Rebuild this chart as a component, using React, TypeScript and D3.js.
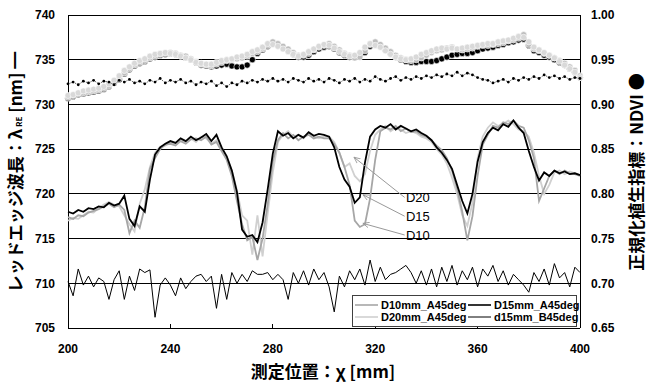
import React from 'react';
import * as d3 from 'd3';

// sample positions along the scan, mm (2 mm step)
const positions = d3.range(200, 401, 2);

// red edge wavelength λRE [nm]
const reD15 = [
  718.0, 717.8, 718.2, 718.0, 718.4, 718.3, 718.6, 718.5, 719.0, 718.7, 718.9,
  719.8, 717.2, 716.4, 718.6, 718.0, 721.6, 724.4, 725.2, 725.6, 725.9,
  725.7, 726.2, 725.9, 726.4, 726.0, 726.3, 726.7, 725.9, 726.6, 725.2,
  724.2, 722.6, 720.2, 716.0, 715.2, 715.4, 714.6, 716.8, 720.5, 724.5,
  727.0, 726.5, 726.8, 726.2, 726.6, 726.3, 726.9, 726.5, 726.7, 726.6,
  726.4, 725.2, 723.0, 721.6, 720.8, 719.0, 719.6, 723.5, 726.4, 727.2,
  727.6, 727.4, 727.8, 727.2, 727.6, 727.3, 727.0, 727.2, 726.8, 726.5,
  726.0, 725.2, 724.6, 723.8, 722.8, 721.0, 719.2, 717.8, 720.0, 723.6,
  725.8, 726.8, 727.4, 727.1, 727.8, 727.5, 728.2, 727.4, 726.8, 724.8,
  723.0, 721.5, 722.4, 722.0, 722.6, 722.3, 722.5, 722.2, 722.3, 722.1,
];
const reD10 = [
  717.4, 717.2, 717.6, 717.5, 717.9, 718.1, 718.3, 718.6, 718.9, 718.5, 718.8,
  718.2, 715.6, 717.0, 716.2, 718.5, 722.8, 724.0, 725.0, 725.5, 725.6,
  725.4, 725.9, 725.6, 726.1, 726.2, 726.0, 726.4, 725.5, 725.8, 724.8,
  723.8, 722.0, 719.2, 716.6, 714.8, 715.2, 712.6, 715.0, 718.8, 723.6,
  726.0, 726.8, 726.2, 726.6, 726.0, 726.4, 726.6, 726.2, 726.4, 726.2,
  726.2, 725.6, 724.6, 723.0, 721.0, 717.0, 716.3, 716.6, 719.5, 723.8,
  727.0, 727.4, 727.2, 727.6, 727.0, 727.3, 726.9, 727.0, 726.6, 726.4,
  726.0, 725.4, 724.9, 724.0, 722.6, 720.6, 718.0, 714.8, 717.5, 722.0,
  725.5, 726.6, 727.6, 727.4, 728.0, 727.8, 728.2, 727.6, 727.4, 726.0,
  724.0, 719.2, 720.6, 722.0, 722.6, 722.2, 722.6, 722.3, 722.2, 722.0,
];
const reD20 = [
  717.0, 717.3, 717.2, 717.6, 718.0, 717.9, 718.4, 718.8, 719.1, 718.8, 718.6,
  717.6, 716.6, 715.8, 718.9, 720.5, 723.0, 724.6, 725.3, 725.4, 725.8,
  725.5, 726.0, 725.8, 726.2, 725.8, 726.4, 726.2, 725.6, 726.0, 725.2,
  724.2, 722.6, 720.4, 717.6, 717.0, 713.2, 717.6, 713.0, 717.8, 722.4,
  725.8, 726.6, 727.0, 726.4, 726.6, 726.2, 726.8, 726.4, 726.2, 726.4,
  726.4, 725.8, 724.6, 723.0, 723.4, 722.0, 721.4, 722.2, 724.8, 726.6,
  727.2, 727.6, 727.0, 727.4, 727.2, 726.8, 727.0, 726.8, 726.4, 726.2,
  725.8, 725.0, 724.4, 723.4, 721.8, 720.0, 717.6, 716.4, 719.0, 724.0,
  726.4, 727.4, 728.0, 727.6, 727.8, 728.2, 727.8, 727.2, 727.0, 726.4,
  724.6, 722.0, 720.0, 721.0, 722.4, 722.6, 722.2, 722.5, 722.3, 722.1,
];
const reD15B = [
  710.2, 708.6, 711.6, 709.8, 710.8, 709.6, 710.6, 710.2, 708.2, 710.4, 711.4,
  708.2, 710.8, 709.2, 711.6, 711.2, 711.5, 706.2, 709.8, 710.6, 709.8,
  708.6, 710.6, 709.4, 710.2, 710.8, 711.0, 710.2, 710.8, 707.2, 711.0,
  708.2, 711.2, 710.0, 711.0, 710.2, 711.4, 711.0, 711.0, 711.2, 710.4,
  711.0, 710.4, 708.2, 711.2, 710.0, 711.4, 709.8, 711.6, 710.4, 711.2,
  709.6, 706.8, 710.8, 709.6, 711.4, 710.4, 711.6, 709.8, 712.6, 710.2,
  711.8, 710.4, 711.0, 711.2, 711.6, 712.0, 711.2, 710.0, 711.4, 709.8,
  711.6, 709.6, 711.8, 710.2, 712.0, 709.8, 711.4, 710.4, 711.8, 709.6,
  711.6, 710.8, 712.0, 710.2, 711.4, 709.8, 711.0, 710.4, 709.8, 709.0,
  711.2, 710.2, 711.6, 709.8, 712.2, 710.6, 711.2, 709.6, 711.8, 711.2,
];

// NDVI
const ndviD10 = [
  0.908, 0.910, 0.912, 0.913, 0.914, 0.915, 0.916, 0.918, 0.921, 0.925, 0.929,
  0.935, 0.940, 0.944, 0.947, 0.949, 0.952, 0.954, 0.956, 0.957, 0.958,
  0.957, 0.955, 0.954, 0.951, 0.948, 0.945, 0.944, 0.943, 0.945, 0.947,
  0.949, 0.950, 0.951, 0.952, 0.954, 0.957, 0.959, 0.962, 0.966, 0.970,
  0.968, 0.965, 0.962, 0.958, 0.955, 0.955, 0.957, 0.961, 0.964, 0.966,
  0.968, 0.965, 0.961, 0.957, 0.955, 0.952, 0.953, 0.960, 0.967, 0.970,
  0.967, 0.963, 0.959, 0.955, 0.952, 0.950, 0.949, 0.950, 0.952, 0.955,
  0.958, 0.960, 0.961, 0.963, 0.964, 0.962, 0.961, 0.962, 0.963, 0.965,
  0.966, 0.966, 0.967, 0.968, 0.969, 0.971, 0.972, 0.974, 0.978, 0.967,
  0.962, 0.960, 0.957, 0.955, 0.952, 0.949, 0.946, 0.942, 0.938, 0.932,
];
const ndviD20 = [
  0.910, 0.911, 0.913, 0.915, 0.916, 0.917, 0.918, 0.920, 0.923, 0.927, 0.932,
  0.938, 0.942, 0.946, 0.949, 0.951, 0.954, 0.956, 0.957, 0.958, 0.957,
  0.956, 0.954, 0.952, 0.950, 0.947, 0.946, 0.945, 0.945, 0.947, 0.949,
  0.950, 0.951, 0.953, 0.954, 0.956, 0.959, 0.961, 0.964, 0.968, 0.967,
  0.965, 0.962, 0.959, 0.956, 0.954, 0.956, 0.959, 0.962, 0.965, 0.967,
  0.966, 0.963, 0.959, 0.956, 0.954, 0.955, 0.958, 0.964, 0.968, 0.966,
  0.964, 0.960, 0.956, 0.953, 0.951, 0.950, 0.951, 0.953, 0.956, 0.958,
  0.960, 0.962, 0.963, 0.962, 0.963, 0.962, 0.963, 0.964, 0.965, 0.966,
  0.967, 0.968, 0.968, 0.970, 0.971, 0.972, 0.974, 0.976, 0.975, 0.970,
  0.964, 0.961, 0.958, 0.955, 0.952, 0.948, 0.944, 0.940, 0.936, 0.930,
];
const ndviD15 = [
  0.907, 0.909, 0.911, 0.912, 0.913, 0.914, 0.915, 0.917, 0.920, 0.924, 0.928,
  0.934, 0.939, 0.943, 0.946, 0.948, 0.951, 0.953, 0.955, 0.956, 0.957,
  0.956, 0.954, 0.952, 0.950, 0.947, 0.944, 0.943, 0.942, 0.943, 0.944,
  0.945, 0.943, 0.942, 0.942, 0.944, 0.950, 0.957, 0.961, 0.965, 0.968,
  0.966, 0.963, 0.960, 0.956, 0.953, 0.953, 0.955, 0.959, 0.962, 0.964,
  0.965, 0.962, 0.958, 0.955, 0.953, 0.954, 0.955, 0.958, 0.965, 0.967,
  0.965, 0.961, 0.957, 0.953, 0.950, 0.948, 0.947, 0.947, 0.948, 0.948,
  0.948, 0.949, 0.951, 0.953, 0.955, 0.956, 0.957, 0.957, 0.958, 0.960,
  0.962, 0.963, 0.964, 0.966, 0.967, 0.969, 0.970, 0.972, 0.973, 0.966,
  0.960, 0.958, 0.955, 0.953, 0.950, 0.947, 0.944, 0.940, 0.936, 0.930,
];
const ndviD15B = [
  0.923, 0.925, 0.922, 0.926, 0.924, 0.927, 0.923, 0.926, 0.925, 0.922, 0.927,
  0.925, 0.928, 0.924, 0.926, 0.923, 0.927, 0.925, 0.929, 0.924, 0.927,
  0.925, 0.928, 0.924, 0.926, 0.922, 0.925, 0.923, 0.926, 0.921, 0.924,
  0.920, 0.924, 0.922, 0.926, 0.924, 0.927, 0.925, 0.928, 0.926, 0.929,
  0.926, 0.928, 0.925, 0.929, 0.927, 0.925, 0.929, 0.926, 0.928, 0.925,
  0.929, 0.927, 0.924, 0.928, 0.926, 0.929, 0.925, 0.928, 0.926, 0.931,
  0.928, 0.926, 0.929, 0.931, 0.927, 0.930, 0.928, 0.931, 0.929, 0.932,
  0.930, 0.933, 0.931, 0.934, 0.932, 0.936, 0.932, 0.935, 0.933, 0.930,
  0.928, 0.927, 0.924, 0.926, 0.928, 0.925, 0.929, 0.927, 0.930, 0.928,
  0.931, 0.929, 0.933, 0.930, 0.932, 0.929, 0.931, 0.928, 0.930, 0.929,
];

const xTicks = [200, 240, 280, 320, 360, 400];
const leftTicks = [705, 710, 715, 720, 725, 730, 735, 740];
const rightTicks = [0.65, 0.7, 0.75, 0.8, 0.85, 0.9, 0.95, 1.0];

// callouts: label, arrow tip [mm, nm]
const callouts = [
  { label: 'D20', tip: [311.7, 724.1], at: 719.6 },
  { label: 'D15', tip: [315.2, 719.9], at: 717.5 },
  { label: 'D10', tip: [315.2, 716.7], at: 715.4 },
];

const legendItems = [
  { name: 'D10mm_A45deg', color: '#a6a6a6', w: 1.6 },
  { name: 'D15mm_A45deg', color: '#000', w: 1.6 },
  { name: 'D20mm_A45deg', color: '#d0d0d0', w: 1.6 },
  { name: 'd15mm_B45deg', color: '#000', w: 1 },
];

const W = 659;
const H = 383;
const L = 68, R = 580, T = 15, B = 328;
const num = '"Liberation Sans", Arial, sans-serif';
const cjk = '"Noto Sans CJK JP", "Noto Sans", sans-serif';

export default function App() {
  const x = d3.scaleLinear().domain([200, 400]).range([L, R]);
  const yL = d3.scaleLinear().domain([705, 740]).range([B, T]);
  const yR = d3.scaleLinear().domain([0.65, 1.0]).range([B, T]);

  const reLine = (vals: number[]) =>
    d3.line<number>().x((_, i) => x(positions[i])).y((d) => yL(d))(vals) || '';
  const ndviLine = d3.line<number>().x((_, i) => x(positions[i])).y((d) => yR(d));

  const circles = (vals: number[], fill: string, key: string) =>
    vals.map((v, i) => (
      <circle key={key + i} cx={x(positions[i])} cy={yR(v)} r={3.1} fill={fill} stroke="#fff" strokeWidth={0.6} />
    ));

  return (
    <div style={{ position: 'absolute', left: 0, top: 0 }}>
      <svg width={W} height={H} viewBox={`0 0 ${W} ${H}`} style={{ display: 'block', background: '#fff' }}>
        <defs>
          <marker id="arr" viewBox="0 0 10 10" refX="9" refY="5" markerWidth="7" markerHeight="7" orient="auto">
            <path d="M0,1 L9,5 L0,9" fill="none" stroke="#999" strokeWidth={1.2} />
          </marker>
        </defs>

        {/* gridlines */}
        {leftTicks.map((t) => (
          <line key={'g' + t} x1={L} x2={R} y1={yL(t)} y2={yL(t)} stroke="#000" strokeWidth={1} shapeRendering="crispEdges" />
        ))}
        <line x1={L} x2={L} y1={T} y2={B} stroke="#000" shapeRendering="crispEdges" />
        <line x1={R} x2={R} y1={T} y2={B} stroke="#000" shapeRendering="crispEdges" />
        {xTicks.slice(1, -1).map((t) => (
          <line key={'xt' + t} x1={x(t)} x2={x(t)} y1={B} y2={B - 4} stroke="#000" shapeRendering="crispEdges" />
        ))}

        {/* λRE lines */}
        <path d={reLine(reD15B)} fill="none" stroke="#000" strokeWidth={1} />
        <path d={reLine(reD20)} fill="none" stroke="#d0d0d0" strokeWidth={1.8} />
        <path d={reLine(reD10)} fill="none" stroke="#a6a6a6" strokeWidth={1.8} />
        <path d={reLine(reD15)} fill="none" stroke="#000" strokeWidth={1.8} />

        {/* NDVI markers */}
        {circles(ndviD15, '#000', 'c15')}
        {circles(ndviD10, '#bdbdbd', 'c10')}
        {circles(ndviD20, '#d9d9d9', 'c20')}
        <path d={ndviLine(ndviD15B) || ''} fill="none" stroke="#000" strokeWidth={0.6} strokeDasharray="1.5,1" />
        {ndviD15B.map((v, i) => (
          <circle key={'b' + i} cx={x(positions[i])} cy={yR(v)} r={1.4} fill="#000" />
        ))}

        {/* callouts */}
        {callouts.map((c) => (
          <g key={c.label}>
            <line x1={x(331.5)} y1={yL(c.at)} x2={x(c.tip[0])} y2={yL(c.tip[1])} stroke="#999" strokeWidth={1} markerEnd="url(#arr)" />
            <text x={x(332)} y={yL(c.at)} dy="0.38em" fontFamily={num} fontSize={13} fill="#000">{c.label}</text>
          </g>
        ))}

        {/* legend */}
        <rect x={352.5} y={295.5} width={224} height={31} fill="#fff" stroke="#404040" strokeWidth={1} />
        {legendItems.map((it, i) => {
          const col = i % 2;
          const row = Math.floor(i / 2);
          const lx = col === 0 ? 355 : 468;
          const ly = 305 + row * 12;
          return (
            <g key={it.name}>
              <line x1={lx} x2={lx + 23} y1={ly} y2={ly} stroke={it.color} strokeWidth={it.w} />
              <text x={lx + 26} y={ly} dy="0.35em" fontFamily={num} fontWeight="bold" fontSize={11} fill="#000">{it.name}</text>
            </g>
          );
        })}

        {/* axis labels */}
        {leftTicks.map((t) => (
          <text key={'lt' + t} x={55} y={yL(t)} dy="0.36em" textAnchor="end" fontFamily={num} fontWeight="bold" fontSize={12}>{t}</text>
        ))}
        {rightTicks.map((t) => (
          <text key={'rt' + t} x={591} y={yR(t)} dy="0.36em" textAnchor="start" fontFamily={num} fontWeight="bold" fontSize={12}>{t.toFixed(2)}</text>
        ))}
        {xTicks.map((t) => (
          <text key={'xl' + t} x={x(t)} y={353} textAnchor="middle" fontFamily={num} fontWeight="bold" fontSize={12}>{t}</text>
        ))}

        {/* titles */}
        <text x={323} y={378} textAnchor="middle" fontFamily={cjk} fontWeight="bold" fontSize={17}>
          測定位置：χ [mm]
        </text>
        <text transform="translate(22,172) rotate(-90)" textAnchor="middle" fontFamily={cjk} fontWeight="bold" fontSize={17}>
          レッドエッジ波長：λ<tspan fontSize={8} dx={2}>RE</tspan> [nm] ━
        </text>
        <text transform="translate(643,172) rotate(-90)" textAnchor="middle" fontFamily={cjk} fontWeight="bold" fontSize={17}>
          正規化植生指標：NDVI ●
        </text>
      </svg>
    </div>
  );
}
